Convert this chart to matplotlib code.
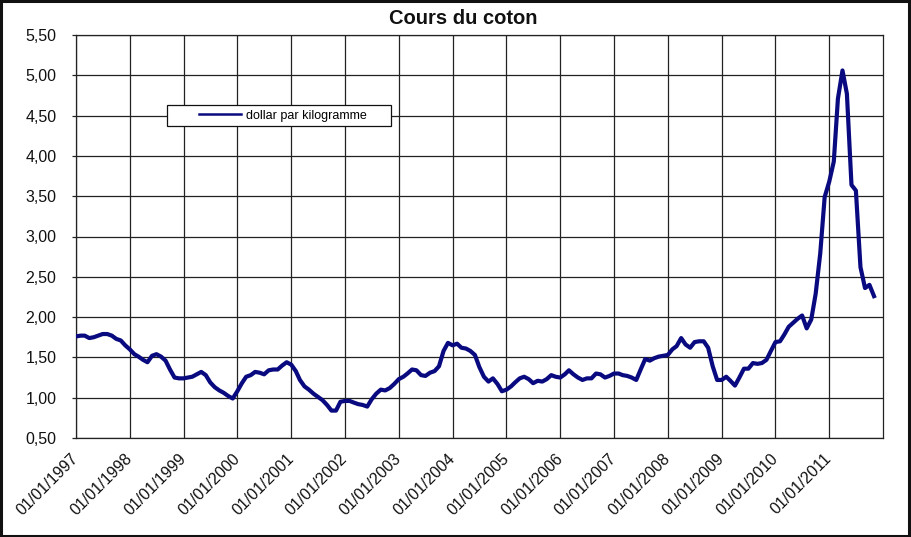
import numpy as np
import pandas as pd
import matplotlib
matplotlib.use("Agg")
import matplotlib.pyplot as plt
from matplotlib.legend_handler import HandlerLine2D
from matplotlib.patches import Rectangle

# ---- data (monthly cotton price, dollar per kilogram, from Jan 1997) ----
prices = [
    1.76, 1.77, 1.77, 1.74, 1.75, 1.77, 1.79, 1.79, 1.77, 1.73, 1.71, 1.65,   # 1997
    1.60, 1.54, 1.51, 1.47, 1.44, 1.52, 1.54, 1.51, 1.46, 1.35, 1.25, 1.24,   # 1998
    1.24, 1.25, 1.26, 1.29, 1.32, 1.28, 1.19, 1.13, 1.09, 1.06, 1.02, 0.99,   # 1999
    1.08, 1.18, 1.26, 1.28, 1.32, 1.31, 1.29, 1.34, 1.35, 1.35, 1.40, 1.44,   # 2000
    1.41, 1.33, 1.22, 1.14, 1.10, 1.05, 1.01, 0.97, 0.91, 0.84, 0.84, 0.95,   # 2001
    0.96, 0.96, 0.94, 0.92, 0.91, 0.89, 0.98, 1.05, 1.10, 1.09, 1.12, 1.17,   # 2002
    1.23, 1.26, 1.30, 1.35, 1.34, 1.28, 1.27, 1.31, 1.33, 1.39, 1.58, 1.68,   # 2003
    1.65, 1.67, 1.62, 1.61, 1.58, 1.53, 1.38, 1.26, 1.20, 1.24, 1.17, 1.08,   # 2004
    1.10, 1.14, 1.19, 1.24, 1.26, 1.23, 1.18, 1.21, 1.20, 1.23, 1.28, 1.26,   # 2005
    1.25, 1.29, 1.34, 1.29, 1.25, 1.22, 1.24, 1.24, 1.30, 1.29, 1.25, 1.27,   # 2006
    1.30, 1.30, 1.28, 1.27, 1.25, 1.22, 1.35, 1.48, 1.46, 1.49, 1.51, 1.52,   # 2007
    1.53, 1.60, 1.64, 1.74, 1.66, 1.62, 1.69, 1.70, 1.70, 1.62, 1.39, 1.22,   # 2008
    1.22, 1.26, 1.21, 1.15, 1.25, 1.36, 1.36, 1.43, 1.42, 1.43, 1.47, 1.58,   # 2009
    1.69, 1.70, 1.78, 1.88, 1.93, 1.98, 2.02, 1.86, 1.97, 2.29, 2.79, 3.49,   # 2010
    3.68, 3.93, 4.71, 5.06, 4.77, 3.64, 3.57, 2.62, 2.36, 2.40, 2.26,         # 2011
]
months = pd.date_range("1997-01-01", periods=len(prices), freq="MS")
years = list(range(1997, 2012))
year_labels = [f"01/01/{y}" for y in years]
series_label = "dollar par kilogramme"
title = "Cours du coton"

plt.rcParams["font.family"] = ["Liberation Sans", "DejaVu Sans"]

W, H = 911, 537
fig = plt.figure(figsize=(W / 100, H / 100), dpi=100, facecolor="white")
ax = fig.add_axes([76 / W, 1 - 438 / H, (883 - 76) / W, (438 - 35) / H])

line, = ax.plot(months, prices, color="#0a0a80", lw=3.0, solid_joinstyle="round",
                label=series_label, zorder=3)

ax.set_ylim(0.5, 5.5)
ax.set_yticks(np.arange(0.5, 5.51, 0.5))
ax.yaxis.set_major_formatter(plt.FuncFormatter(lambda v, p: f"{v:.2f}".replace(".", ",")))

ax.set_xlim(pd.Timestamp("1997-01-01"), pd.Timestamp("2012-01-01"))
ticks = [pd.Timestamp(f"{y}-01-01") for y in years]
ax.set_xticks(ticks)
ax.set_xticklabels(year_labels, rotation=45, ha="right", va="center",
                   rotation_mode="anchor")

ax.grid(True, color="#222222", lw=0.9)
ax.set_axisbelow(True)
for s in ax.spines.values():
    s.set_color("#222222")
    s.set_linewidth(0.9)

ax.tick_params(axis="y", direction="out", length=3, width=0.9, pad=11,
               labelsize=11.5, colors="#222222")
ax.tick_params(axis="x", length=0, pad=13, labelsize=11.5, colors="#222222")
for lbl in ax.get_yticklabels() + ax.get_xticklabels():
    lbl.set_color("#111111")

fig.text(463 / W, 1 - 18 / H, title, ha="center", va="center",
         fontsize=14.5, fontweight="bold", color="#111111")


class LeftPadLine(HandlerLine2D):
    def get_xdata(self, legend, xdescent, ydescent, width, height, fontsize):
        x = np.array([-xdescent + 0.39 * width, -xdescent + width])
        return x, x


leg = ax.legend(handles=[line], loc="upper left", mode="expand",
                bbox_to_anchor=(167 / W, 1 - 106 / H, (391 - 167) / W, 0.001),
                bbox_transform=fig.transFigure, borderaxespad=0,
                fontsize=9, handlelength=5.6, handletextpad=0.4,
                borderpad=0.35, fancybox=False, framealpha=1,
                edgecolor="#111111", handler_map={line: LeftPadLine()})
leg.get_frame().set_linewidth(0.9)
for h in leg.get_lines():
    h.set_linewidth(1.8)

fig.patches.append(Rectangle((0.001, 0.002), 0.997, 0.996, transform=fig.transFigure,
                             fill=False, edgecolor="#111111", lw=2.2))

fig.savefig("out.png", dpi=100, facecolor="white")
